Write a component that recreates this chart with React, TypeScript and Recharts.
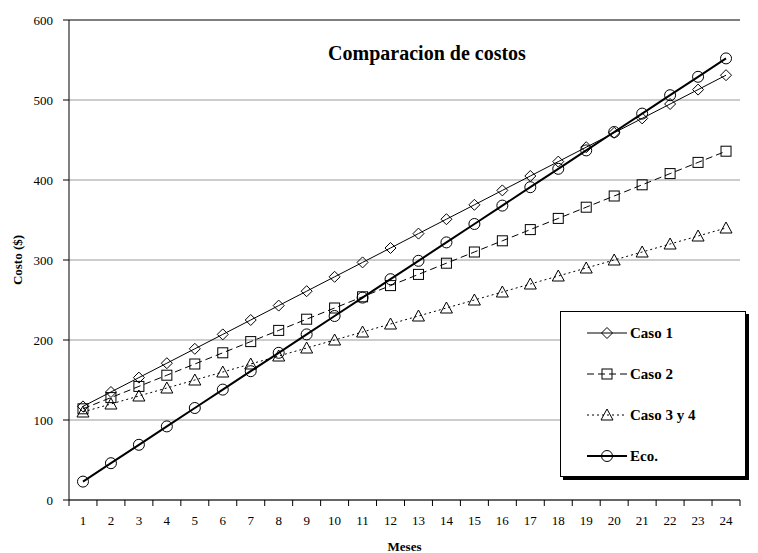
import React from 'react';
import {
  LineChart,
  Line,
  XAxis,
  YAxis,
  CartesianGrid,
  ReferenceLine,
  Label,
} from 'recharts';

// datos
const MESES = [1, 2, 3, 4, 5, 6, 7, 8, 9, 10, 11, 12, 13, 14, 15, 16, 17, 18, 19, 20, 21, 22, 23, 24];
const CASO_1 = [117, 135, 153, 171, 189, 207, 225, 243, 261, 279, 297, 315, 333, 351, 369, 387, 405, 423, 441, 459, 477, 495, 513, 531];
const CASO_2 = [114, 128, 142, 156, 170, 184, 198, 212, 226, 240, 254, 268, 282, 296, 310, 324, 338, 352, 366, 380, 394, 408, 422, 436];
const CASO_3 = [110, 120, 130, 140, 150, 160, 170, 180, 190, 200, 210, 220, 230, 240, 250, 260, 270, 280, 290, 300, 310, 320, 330, 340];
const ECO = [23, 46, 69, 92, 115, 138, 161, 184, 207, 230, 253, 276, 299, 322, 345, 368, 391, 414, 437, 460, 483, 506, 529, 552];
const Y_TICKS = [0, 100, 200, 300, 400, 500, 600];

const data = MESES.map((m, i) => ({
  mes: m,
  caso1: CASO_1[i],
  caso2: CASO_2[i],
  caso3: CASO_3[i],
  eco: ECO[i],
}));

const FONT = '"Liberation Serif", "Times New Roman", serif';
const TICK_SIZE = 6;
const TICK_MARGIN = 10;

type Shape = 'diamond' | 'square' | 'triangle' | 'circle';

const marker = (shape: Shape, cx: number, cy: number, key?: any) => {
  const common = { key, fill: 'none', stroke: '#000', strokeWidth: 1 };
  switch (shape) {
    case 'diamond':
      return <path {...common} d={`M${cx},${cy - 5.5}L${cx + 5.5},${cy}L${cx},${cy + 5.5}L${cx - 5.5},${cy}Z`} />;
    case 'square':
      return <rect {...common} x={cx - 5} y={cy - 5} width={10} height={10} />;
    case 'triangle':
      return <path {...common} d={`M${cx},${cy - 6}L${cx + 6},${cy + 5}L${cx - 6},${cy + 5}Z`} />;
    default:
      return <circle {...common} cx={cx} cy={cy} r={5.5} />;
  }
};

const makeDot = (shape: Shape) => (p: any) => {
  if (p.cx == null || p.cy == null) return <g key={p.index} />;
  return marker(shape, p.cx, p.cy, p.index);
};

// ticks del eje X entre categorias, como en Excel
const MesTick = (props: any) => {
  const { x, y, payload, index } = props;
  const off = payload?.offset ?? 14;
  const axisY = y - TICK_SIZE - TICK_MARGIN;
  return (
    <g>
      <line x1={x - off} x2={x - off} y1={axisY} y2={axisY + TICK_SIZE} stroke="#000" />
      {index === MESES.length - 1 && (
        <line x1={x + off} x2={x + off} y1={axisY} y2={axisY + TICK_SIZE} stroke="#000" />
      )}
      <text x={x} y={y} dy="0.71em" textAnchor="middle" fontSize={13} fontFamily={FONT} fill="#000">
        {payload.value}
      </text>
    </g>
  );
};

const SERIES = [
  { name: 'Caso 1', shape: 'diamond' as Shape, dash: undefined, width: 1 },
  { name: 'Caso 2', shape: 'square' as Shape, dash: '7 4', width: 1 },
  { name: 'Caso 3 y 4', shape: 'triangle' as Shape, dash: '2 3', width: 1 },
  { name: 'Eco.', shape: 'circle' as Shape, dash: undefined, width: 2 },
];

const Leyenda = () => (
  <div
    style={{
      position: 'absolute',
      left: 560,
      top: 311,
      width: 184,
      height: 164,
      border: '1px solid #000',
      boxShadow: '3px 3px 0 #000',
      background: '#fff',
    }}
  >
    <svg width={184} height={164}>
      {SERIES.map((s, i) => {
        const cy = 21 + i * 41;
        return (
          <g key={s.name}>
            <line x1={26} x2={66} y1={cy} y2={cy} stroke="#000" strokeWidth={s.width} strokeDasharray={s.dash} />
            {marker(s.shape, 46, cy)}
            <text x={69} y={cy} dy="0.35em" fontSize={15} fontWeight="bold" fontFamily={FONT} fill="#000">
              {s.name}
            </text>
          </g>
        );
      })}
    </svg>
  </div>
);

export default function App() {
  return (
    <div style={{ position: 'absolute', left: 0, top: 0, width: 758, height: 553, background: '#fff' }}>
      <LineChart width={758} height={553} data={data} margin={{ top: 20, right: 18, left: 0, bottom: 0 }}>
        <CartesianGrid vertical={false} stroke="#999" />
        <ReferenceLine y={600} stroke="#333" />
        <XAxis
          dataKey="mes"
          scale="band"
          height={53}
          stroke="#000"
          tickLine={false}
          tickSize={TICK_SIZE}
          tickMargin={TICK_MARGIN}
          interval={0}
          tick={<MesTick />}
        >
          <Label
            value="Meses"
            position="insideBottom"
            offset={2}
            style={{ fontFamily: FONT, fontSize: 13, fontWeight: 'bold', fill: '#000' }}
          />
        </XAxis>
        <YAxis
          width={69}
          domain={[0, 600]}
          ticks={Y_TICKS}
          stroke="#000"
          tickSize={TICK_SIZE}
          tickMargin={TICK_MARGIN}
          tick={{ fontFamily: FONT, fontSize: 13, fill: '#000' }}
        >
          <Label
            content={(p: any) => {
              const vb = p.viewBox || { x: 0, y: 20, width: 69, height: 480 };
              const cx = vb.x + 17;
              const cy = vb.y + vb.height / 2;
              return (
                <text
                  x={cx}
                  y={cy}
                  transform={`rotate(-90 ${cx} ${cy})`}
                  textAnchor="middle"
                  dy="0.35em"
                  fontSize={13}
                  fontWeight="bold"
                  fontFamily={FONT}
                  fill="#000"
                >
                  Costo ($)
                </text>
              );
            }}
          />
        </YAxis>
        <Line dataKey="caso1" stroke="#000" strokeWidth={1} dot={makeDot('diamond')} isAnimationActive={false} />
        <Line dataKey="caso2" stroke="#000" strokeWidth={1} strokeDasharray="7 4" dot={makeDot('square')} isAnimationActive={false} />
        <Line dataKey="caso3" stroke="#000" strokeWidth={1} strokeDasharray="2 3" dot={makeDot('triangle')} isAnimationActive={false} />
        <Line dataKey="eco" stroke="#000" strokeWidth={2} dot={makeDot('circle')} isAnimationActive={false} />
      </LineChart>
      <div
        style={{
          position: 'absolute',
          left: 327,
          top: 43,
          width: 200,
          textAlign: 'center',
          whiteSpace: 'nowrap',
          fontFamily: FONT,
          fontSize: 20,
          lineHeight: '20px',
          fontWeight: 'bold',
          color: '#000',
        }}
      >
        Comparacion de costos
      </div>
      <Leyenda />
    </div>
  );
}
